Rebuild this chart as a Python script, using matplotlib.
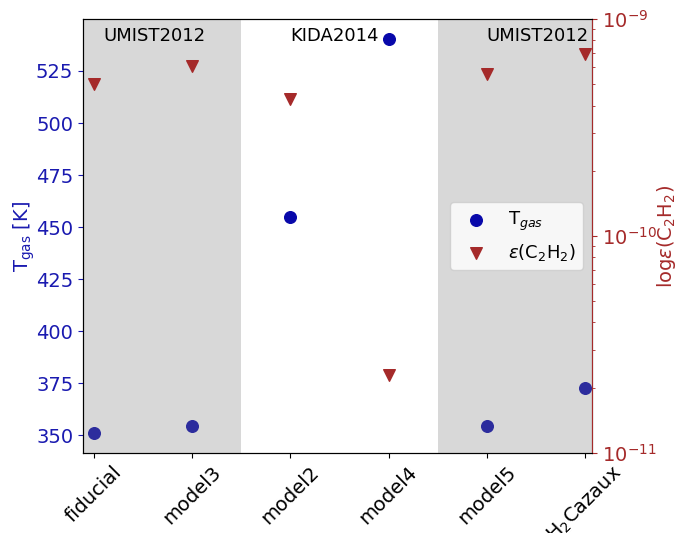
import matplotlib.pyplot as plt

models = ["fiducial", "model3", "model2", "model4", "model5", r"H$_2$Cazaux"]
t_gas = [351.0, 354.5, 454.7, 540.4, 354.5, 372.6]
eps_c2h2 = [5.0e-10, 6.1e-10, 4.3e-10, 2.3e-11, 5.6e-10, 6.9e-10]
networks = ["UMIST2012", "KIDA2014", "UMIST2012"]
network_start = [0.1, 2.0, 4.0]

fig = plt.figure(figsize=(6.86, 5.33), dpi=100)
ax = fig.add_axes([0.121, 0.150, 0.742, 0.814])
ax2 = ax.twinx()

x = list(range(len(models)))
p1 = ax.scatter(x, t_gas, s=70, color="#0808aa", zorder=2, label=r"T$_{gas}$")
# grey bands drawn over the points, as in the original
ax.axvspan(-0.5, 1.5, color="gray", alpha=0.3, lw=0, zorder=3)
ax.axvspan(3.5, 5.5, color="gray", alpha=0.3, lw=0, zorder=3)

p2 = ax2.scatter(x, eps_c2h2, s=70, marker="v", color="brown", zorder=3,
                 label=r"$\varepsilon$(C$_2$H$_2$)")

ax.set_xlim(-0.11, 5.07)
ax.set_xticks(x)
ax.set_xticklabels(models, rotation=45, fontsize=14)
ax.set_ylabel(r"T$_{\rm gas}$ [K]", color="#1a1ab0", fontsize=14, labelpad=-1)
ax.tick_params(axis="y", colors="#1a1ab0", labelsize=14)

ax2.set_yscale("log")
ax2.set_ylim(1e-11, 1e-9)
ax2.set_ylabel(r"log$\varepsilon$(C$_2$H$_2$)", color="brown", fontsize=14, labelpad=-1)
ax2.tick_params(axis="y", which="both", colors="brown", labelsize=14)
ax2.spines["right"].set_color("brown")

for xs, name in zip(network_start, networks):
    ax.text(xs, 0.982, name, transform=ax.get_xaxis_transform(), ha="left",
            va="top", fontsize=13, zorder=4)

ax2.legend([p1, p2], [p1.get_label(), p2.get_label()], loc="center right", fontsize=13)

fig.savefig("out.png")
